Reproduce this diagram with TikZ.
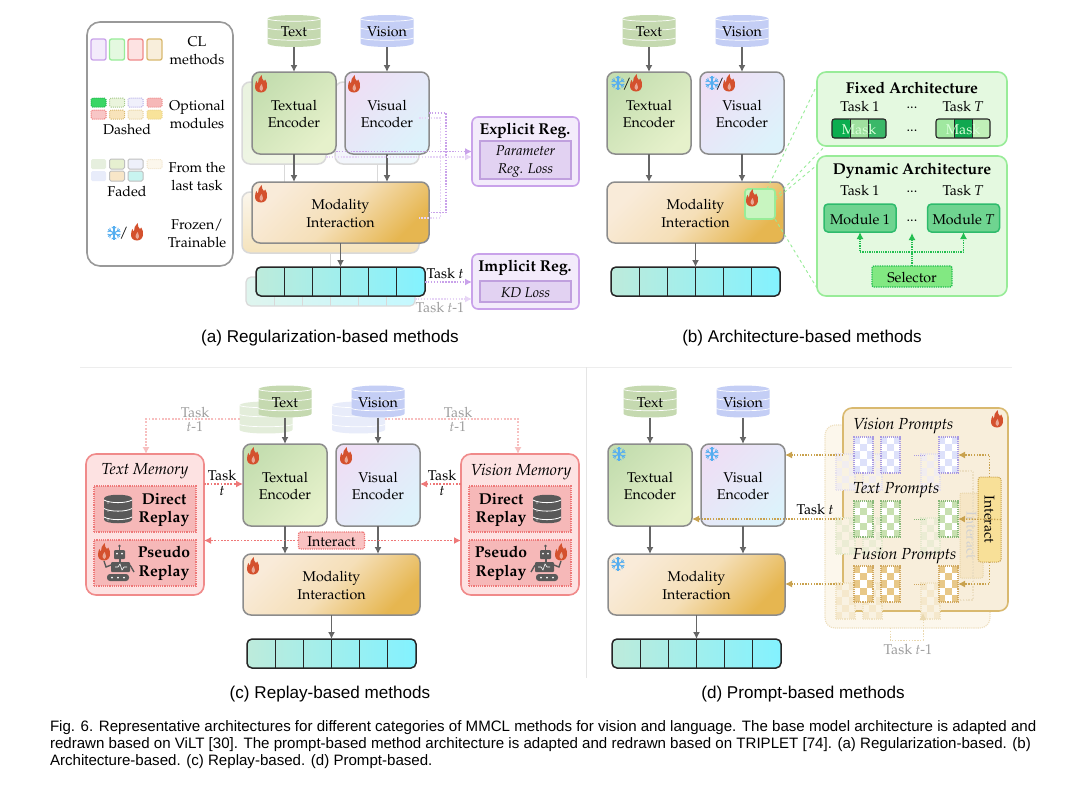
\documentclass[tikz,border=0pt]{standalone}
\usepackage[T1]{fontenc}
\usepackage{fontspec}
\usepackage{tikz}
\usetikzlibrary{shapes,arrows,arrows.meta}
\usetikzlibrary{positioning}
\usetikzlibrary{calc}
\newfontfamily\capfont{Liberation Sans}
\newcommand{\palfont}{\fontencoding{T1}\fontfamily{ppl}\fontsize{14.2}{17.5}\selectfont}
\newcommand{\lowtext}{\rule{0pt}{12.5pt}}

\definecolor{boxgray}{HTML}{8C8C8C}
\definecolor{flowgray}{HTML}{666666}
\definecolor{flamered}{HTML}{D4512E}
\definecolor{snowblue}{HTML}{55AEF0}
\definecolor{textdb}{HTML}{C5D9B0}
\definecolor{visdb}{HTML}{C4CEF5}
\definecolor{pline}{HTML}{C9A2EA}
\definecolor{pfill}{HTML}{F3EBFB}
\definecolor{pinner}{HTML}{E2D2F2}
\definecolor{gline}{HTML}{98EC98}
\definecolor{gfill}{HTML}{E4F9E0}
\definecolor{rline}{HTML}{F08A8A}
\definecolor{rfill}{HTML}{FDE2E2}
\definecolor{rinner}{HTML}{F6B8B8}
\definecolor{rdot}{HTML}{EE7878}
\definecolor{tline}{HTML}{D9B96F}
\definecolor{tfill}{HTML}{F8EEDB}
\definecolor{tdot}{HTML}{C9A24E}
% one-off shades, named by their hex value
\newcommand{\hexcolor}[1]{\definecolor{#1}{HTML}{#1}}
\makeatletter
\@for\hc:=C5DEB0,E6F1CB,EEDFF5,DDF2FB,F9EBD9,E6B650,F5DFB8,BDEBDB,83F2FF,C0A0DE,2EBB6C,6FD490,C8F5C0,0CAE50,9FE09F,3AB868,A0E8A0,10A850,C0F0B8,1FB54A,3AD665,A6C98C,EAF4DC,B4ACE6,F0F0FB,EE8A8A,F6B8B8,EE7070,F8C6C6,D9B96F,F8E3BA,E6CE96,F8EFD8,EAD38A,F8E39A,E6EFDE,E6F0D0,EEF0FA,F0E3C8,FCF7EC,E8ECFA,F8E6C8,C8F4F0,EAF3E0,F2F7E6,F6F1F9,EFF8FC,FBF6EC,FAF0DE,F5E3BC,DFF5EE,C4F8FF,22BE50,82E882,E3EDDA,F9C2C2,F6E6C6,F1EDF0,E5E0EC,EBECD4,E3E8CC,F5E8CC,F0E2C2,F9F2E2,DDE1FA,A99BE2,C8E0B0,88B878,E8C888,D0A860,F8E098\do{\expandafter\hexcolor\expandafter{\hc}}
\makeatother

\tikzset{>={Latex[length=7pt,width=7pt]}, inner sep=0pt, outer sep=0pt, every node/.style={font=\palfont}}
\tikzstyle{encoder} = [draw=boxgray, line width=1.5pt, rounded corners=8pt, minimum width=84pt, minimum height=82pt, align=center, anchor=north west]
\tikzstyle{textenc} = [encoder, top color=C5DEB0, bottom color=E6F1CB, shading angle=45]
\tikzstyle{visenc} = [encoder, top color=EEDFF5, bottom color=DDF2FB, shading angle=45]
\tikzstyle{modbox} = [draw=boxgray, line width=1.5pt, rounded corners=8pt, minimum width=177pt, minimum height=61pt, align=center, top color=F9EBD9, bottom color=E6B650, middle color=F5DFB8, shading angle=45]
\tikzstyle{barbox} = [draw=black!85, line width=1.5pt, rounded corners=5pt, minimum width=169pt, minimum height=29pt, left color=BDEBDB, right color=83F2FF]
\tikzstyle{flow} = [draw=flowgray, line width=1.4pt, ->]
\tikzstyle{dbslot} = [minimum width=53pt, minimum height=32pt]
\tikzstyle{purpledot} = [draw=pline, line width=1.5pt, dash pattern=on 1.5pt off 1.4pt]
\tikzstyle{greendot} = [draw=22BE50, line width=1.3pt, densely dotted]
\tikzstyle{reddot} = [draw=rdot, line width=1.8pt, dash pattern=on 1.8pt off 1.5pt]
\tikzstyle{tandot} = [draw=tdot, line width=1.4pt, dash pattern=on 1.4pt off 1.4pt]
\tikzstyle{zoomline} = [draw=gline, line width=.9pt, dashed]
\tikzstyle{regbox} = [draw=pline, fill=pfill, line width=1.6pt, rounded corners=6pt, minimum width=107pt]
\tikzstyle{reginner} = [draw=C0A0DE, fill=pinner, line width=1.2pt, minimum width=91pt, align=center, font=\palfont\itshape]
\tikzstyle{archbox} = [draw=gline, fill=gfill, line width=1.6pt, rounded corners=9pt, minimum width=190pt]
\tikzstyle{modulebox} = [draw=2EBB6C, fill=6FD490, line width=1.5pt, rounded corners=4pt, minimum width=72pt, minimum height=28pt]
\tikzstyle{maskbox} = [draw=black!85, line width=1.1pt, rounded corners=2.5pt, minimum width=54pt, minimum height=19pt, text=white!85!green]
\tikzstyle{checkbox} = [line width=1.1pt, densely dotted, minimum width=19pt, minimum height=36pt]
\tikzstyle{membox} = [draw=rline, fill=rfill, line width=1.6pt, rounded corners=10pt, minimum width=118pt, minimum height=141pt]
\tikzstyle{replaybox} = [draw=rdot, fill=rinner, line width=1.2pt, densely dotted, minimum width=102pt, minimum height=46pt]
\tikzstyle{swatch} = [line width=1.3pt, rounded corners=2pt, minimum width=15pt, minimum height=21pt]
\tikzstyle{mini} = [line width=1pt, densely dotted, rounded corners=1.5pt, minimum width=15pt, minimum height=9pt]
\tikzstyle{minifade} = [draw=black!25, line width=1pt, rounded corners=1.5pt, minimum width=15pt, minimum height=10pt]
\tikzstyle{bold} = [font=\palfont\bfseries\fontsize{15.7}{18.5}\selectfont]
\tikzstyle{italic} = [font=\palfont\itshape\fontsize{16}{17}\selectfont]
\tikzstyle{capt} = [font=\capfont\fontsize{17.1}{17}\selectfont]
\tikzstyle{gone} = [text=black!38, align=center]

% small pictures
\newcommand{\dbshape}[2]{
  \begin{scope}[shift={(#1)}]
    \fill [#2] (-26.5,-12) .. controls (-26.5,-17.3) and (26.5,-17.3) .. (26.5,-12) -- (26.5,12) .. controls (26.5,17.3) and (-26.5,17.3) .. (-26.5,12) -- cycle;
    \foreach \yy in {-12,-3,7}
      \draw [white, line width=.7pt] (-26.5,\yy) .. controls (-20,\yy+3) and (20,\yy+3) .. (26.5,\yy);
  \end{scope}
}
\newcommand{\maskshape}[4]{
  \begin{scope}[shift={(#1)}]
    \fill [#2, rounded corners=2pt] (-27,-9.5) rectangle (-9,9.5);
    \fill [#3] (-9,-9.5) rectangle (9,9.5);
    \fill [#4, rounded corners=2pt] (9,-9.5) rectangle (27,9.5);
    \draw [black!85, line width=1pt] (-9,-9.5) -- (-9,9.5) (9,-9.5) -- (9,9.5);
  \end{scope}
}
\newcommand{\checkcell}[5]{
  \begin{scope}[shift={(#2)}]
    \fill [#5] (-9.5,-18) rectangle (9.5,18);
    \foreach \cc in {0,1,2} \foreach \rr in {0,...,4} {
      \pgfmathparse{int(mod(\cc+\rr,2))}
      \ifnum\pgfmathresult=0 \fill [#3] (\cc*6.33-9.5,\rr*7.2-18) rectangle (\cc*6.33-3.17,\rr*7.2-10.8); \fi
    }
  \end{scope}
  \node [checkbox, draw=#4] (#1) at (#2) {};
}
\newcommand{\flameicon}[1]{
  \begin{scope}[shift={(#1)}]
    \fill [flamered] (0,8.5) .. controls (-3.8,8.5) and (-6.2,6) .. (-6,2.5) .. controls (-5.9,.5) and (-5.3,-1.5) .. (-4.6,-3.2) .. controls (-4.3,-1.6) and (-3.9,-.8) .. (-3.1,-.2) .. controls (-3.2,-3.5) and (-2,-6.8) .. (.6,-9) .. controls (.3,-6) and (1.8,-4.6) .. (3,-2.8) .. controls (3.6,-3.4) and (3.9,-3.9) .. (4.2,-4.6) .. controls (5.6,-2.2) and (6.4,0) .. (6,3) .. controls (5.6,6.2) and (3.4,8.5) .. (0,8.5) -- cycle;
    \fill [white, opacity=.5] (.5,7) .. controls (-2.4,6) and (-1.8,2.5) .. (.8,0) .. controls (1,2.5) and (3.4,4.5) .. (.5,7) -- cycle;
  \end{scope}
}
\newcommand{\snowicon}[1]{
  \begin{scope}[shift={(#1)}]
    \foreach \aa in {0,60,...,300} {
      \draw [snowblue, line width=1.1pt, rotate=\aa] (0,0) -- (0,6.8);
      \draw [snowblue, line width=.8pt, rotate=\aa] (-2.3,6.2) -- (0,4) -- (2.3,6.2);
    }
  \end{scope}
}
\newcommand{\dbicon}[1]{
  \begin{scope}[shift={(#1)}]
    \fill [black!65] (-14,-10.5) .. controls (-14,-15.5) and (14,-15.5) .. (14,-10.5) -- (14,10.5) .. controls (14,15.5) and (-14,15.5) .. (-14,10.5) -- cycle;
    \foreach \yy in {-9,-.5,8}
      \draw [white, line width=.8pt] (-14,\yy) .. controls (-8,\yy+3.5) and (8,\yy+3.5) .. (14,\yy);
    \foreach \yy in {-2,7,-10}
      \fill [white] (-10,\yy+4) circle (.7pt);
  \end{scope}
}
\newcommand{\roboticon}[2]{
  \begin{scope}[shift={(#1)}, x=#2pt]
    \fill [black!65, rounded corners=1pt] (-6,-13) rectangle (5,-4);
    \draw [black!65, line width=1pt] (-.5,-13) -- (-.5,-17);
    \fill [black!65] (-.5,-17) circle (1.3pt);
    \fill [white] (-3,-9.5) circle (1pt) (2,-9.5) circle (1pt);
    \draw [black!65, line width=2pt] (-.5,-4) -- (-.5,-1);
    \fill [black!65, rounded corners=1pt] (-9,-1) rectangle (10,9);
    \fill [black!65, rounded corners=3pt] (-13,11) rectangle (9,18);
    \fill [white] (-8,14.5) circle (1pt) (-2,14.5) circle (1pt) (4,14.5) circle (1pt);
    \draw [white, line width=.6pt] (-5,4) -- (-2,4) -- (0,1) -- (2,7) -- (4,4) -- (7,4);
    \draw [black!65, line width=1.4pt] (-9,2) -- (-14,4) -- (-16,-2) (10,2) -- (14,9);
  \end{scope}
}
% prefix, x, y of the textual encoder, gap to the data stores
\newcommand{\basemodel}[4]{
  \node [textenc] (#1_text) at (#2,#3) {\lowtext Textual\\Encoder};
  \node [visenc, right=9pt of #1_text] (#1_vis) {\lowtext Visual\\Encoder};
  \node [modbox, below=28pt of #1_text.south west, anchor=north west] (#1_mod) {\lowtext Modality\\Interaction};
  \node [barbox, below=24pt of #1_mod] (#1_bar) {};
  \foreach \i in {1,...,5}
    \draw [black!85, line width=1pt] ($(#1_bar.north west)!\i/6!(#1_bar.north east)$) -- ($(#1_bar.south west)!\i/6!(#1_bar.south east)$);
  \node [dbslot, above=#4pt of #1_text] (#1_tdb) {};
  \dbshape{#1_tdb}{textdb}
  \node (#1_tdbl) at ($(#1_tdb)+(0,1)$) {Text};
  \node [dbslot, above=#4pt of #1_vis] (#1_vdb) {};
  \dbshape{#1_vdb}{visdb}
  \node (#1_vdbl) at ($(#1_vdb)+(0,1)$) {Vision};
  \draw [flow] (#1_tdb) -- (#1_text);
  \draw [flow] (#1_vdb) -- (#1_vis);
  \draw [flow] (#1_text) -- (#1_text |- #1_mod.north);
  \draw [flow] (#1_vis) -- (#1_vis |- #1_mod.north);
  \draw [flow] (#1_mod) -- (#1_bar);
}

\begin{document}
\begin{tikzpicture}[x=1pt, y=-1pt]
  \useasboundingbox (0,0) rectangle (1080,793);
  \fill [white] (0,0) rectangle (1080,793);

  % legend
  \node [draw=black!40, line width=1.6pt, rounded corners=13pt, minimum width=146pt, minimum height=244pt, anchor=north west] (legend) at (87,22) {};
  \foreach \xx/\dd/\ff [count=\i] in {98.5/pline/pfill, 117/gline/gfill, 135.5/rline/rfill, 154.5/tline/tfill}
    \node [swatch, draw=\dd, fill=\ff] (cl\i) at (\xx,49.5) {};
  \node [align=center] (cl_text) at (197,50.5) {CL\\methods};
  \foreach \xx/\yy/\dd/\ff [count=\i] in {98.5/102.5/1FB54A/3AD665, 117/102.5/A6C98C/EAF4DC, 135.5/102.5/B4ACE6/F0F0FB, 154.5/102.5/EE8A8A/F6B8B8, 98.5/114.5/EE7070/F8C6C6, 117/114.5/D9B96F/F8E3BA, 135.5/114.5/E6CE96/F8EFD8, 154.5/114.5/EAD38A/F8E39A}
    \node [mini, draw=\dd, fill=\ff] (opt\i) at (\xx,\yy) {};
  \node (dashed) at (127,130) {Dashed};
  \node [align=center] (opt_text) at (197,114.5) {Optional\\modules};
  \node [minifade, draw=none, fill=E6EFDE] (old1) at (98.5,164) {};
  \node [minifade, fill=E6F0D0] (old2) at (117,164) {};
  \node [minifade, fill=EEF0FA] (old3) at (135.5,164) {};
  \node [mini, draw=F0E3C8, fill=FCF7EC] (old4) at (154.5,164) {};
  \node [minifade, draw=none, fill=E8ECFA] (old5) at (98.5,176) {};
  \node [minifade, fill=F8E6C8] (old6) at (117,176) {};
  \node [minifade, fill=C8F4F0] (old7) at (135.5,176) {};
  \node (faded) at (127,192) {Faded};
  \node [align=center] (old_text) at (197,176.5) {From the\\last task};
  \snowicon{114,233}
  \node (slash) at (124,233) {/};
  \flameicon{137,232}
  \node [align=center] (icon_text) at (197,233.5) {Frozen/\\Trainable};

  % (a)
  \node [encoder, draw=black!15, top color=EAF3E0, bottom color=F2F7E6, shading angle=45] (o_text) at (242,82) {};
  \node [encoder, draw=black!15, top color=F6F1F9, bottom color=EFF8FC, shading angle=45, right=9pt of o_text] (o_vis) {};
  \node [modbox, draw=black!15, top color=FBF6EC, middle color=FAF0DE, bottom color=F5E3BC, below=28pt of o_text.south west, anchor=north west] (o_mod) {};
  \node [barbox, draw=black!15, line width=1.2pt, left color=DFF5EE, right color=C4F8FF, below=24pt of o_mod] (o_bar) {};
  \foreach \i in {1,...,5}
    \draw [black!15, line width=.9pt] ($(o_bar.north west)!\i/6!(o_bar.north east)$) -- ($(o_bar.south west)!\i/6!(o_bar.south east)$);
  \draw [black!15, line width=.9pt] (o_text) -- (o_text |- o_mod.north);
  \draw [black!15, line width=.9pt] (o_vis) -- (o_vis |- o_mod.north);
  \draw [black!15, line width=.9pt] (o_mod) -- (o_bar);
  \basemodel{a}{252}{72}{25}
  \flameicon{261,84}
  \flameicon{354,84}
  \flameicon{261,194}
  \node [regbox, minimum height=69pt, anchor=north west] (reg_e) at (472,117) {};
  \node [bold] (reg_e_title) at (525,130.5) {Explicit Reg.};
  \node [reginner, minimum height=38pt, below=24pt of reg_e.north] (reg_e_in) {\lowtext Parameter\\Reg. Loss};
  \node [regbox, minimum height=55pt, anchor=north west] (reg_i) at (472,254) {};
  \node [bold] (reg_i_title) at (525,267.5) {Implicit Reg.};
  \node [reginner, minimum height=21pt, below=27pt of reg_i.north] (reg_i_in) {\lowtext KD Loss};
  \coordinate (a_bend) at (446,113);
  \coordinate (o_bend) at (440.5,118);
  \draw [purpledot, draw=pline!45] (o_vis.east |- o_bend) -- (o_bend) |- (o_mod.east |- 0,218);
  \draw [purpledot] (a_vis.east) -- (a_bend) |- (a_mod.east);
  \draw [purpledot, ->, draw=pline!45] (o_text.south east |- 0,157) -- (reg_e.west |- 0,157);
  \draw [purpledot, ->] (a_text.south east |- 0,151.5) -- (reg_e.west |- 0,151.5);
  \draw [purpledot, ->] (a_bar.east |- 0,282) -- (reg_i.west |- 0,282);
  \draw [purpledot, ->, draw=pline!45] (o_bar.east |- 0,299) -- (reg_i.west |- 0,299);
  \node (task_a) at (445,274) {Task \textit{t}};
  \node [gone] (task_a_old) at (440,308) {Task \textit{t}-1};
  \node [capt] (cap_a) at (330,338.5) {(a) Regularization-based methods};

  % (b)
  \basemodel{b}{607}{72}{25}
  \snowicon{618,83}
  \node (b_sl1) at (627,84) {/};
  \flameicon{636,83}
  \snowicon{712,83}
  \node (b_sl2) at (720,84) {/};
  \flameicon{729,83}
  \node [draw=gline, fill=C8F5C0, line width=1.6pt, rounded corners=3pt, minimum width=30pt, minimum height=30pt, anchor=north west] (b_opt) at (745,189) {};
  \flameicon{752,198}
  \node [archbox, minimum height=74pt, anchor=north west] (b_fixed) at (817,72) {};
  \node [archbox, minimum height=140pt, anchor=north west] (b_dyn) at (817,156) {};
  \draw [zoomline] ($(b_opt.north)+(7,0)$) -- ($(b_fixed.north west)+(0,13)$);
  \draw [zoomline] ($(b_opt.north east)+(0,9)$) -- ($(b_fixed.south west)+(8,0)$);
  \draw [zoomline] ($(b_opt.north east)+(0,11)$) -- ($(b_dyn.north west)+(0,9)$);
  \draw [zoomline] (b_opt.south east) -- ($(b_dyn.south west)+(0,-8)$);
  \node [bold] (b_fixed_t) at (912,87.5) {Fixed Architecture};
  \node (b_f1) at (860,107) {Task 1};
  \node (b_fd) at (912,108) {...};
  \node (b_fT) at (963,107) {Task \textit{T}};
  \maskshape{859,128.5}{0CAE50}{9FE09F}{3AB868}
  \node [maskbox] (b_mask1) at (859,128.5) {\lowtext Mask};
  \node (b_md) at (912,131) {...};
  \maskshape{963,128.5}{A0E8A0}{10A850}{C0F0B8}
  \node [maskbox] (b_mask2) at (963,128.5) {\lowtext Mask};
  \node [bold] (b_dyn_t) at (912,170.5) {Dynamic Architecture};
  \node (b_d1) at (860,191) {Task 1};
  \node (b_dd) at (912,192) {...};
  \node (b_dT) at (963,191) {Task \textit{T}};
  \node [modulebox] (b_m1) at (860,218) {\lowtext Module 1};
  \node (b_mdots) at (912,221) {...};
  \node [modulebox] (b_mT) at (963.5,218) {\lowtext Module \textit{T}};
  \node [draw=22BE50, fill=82E882, line width=1.3pt, densely dotted, rounded corners=2pt, minimum width=80pt, minimum height=21pt] (b_sel) at (912,276.5) {\lowtext Selector};
  \coordinate (b_bus) at (912,252);
  \coordinate (b_tip) at (912,233);
  \draw [greendot, ->] (b_sel) -- (b_tip);
  \draw [greendot, ->] (b_bus) -| (b_m1.south);
  \draw [greendot, ->] (b_bus) -| (b_mT.south);
  \node [capt] (cap_b) at (802,338.5) {(b) Architecture-based methods};

  % separators
  \draw [black!7, line width=.8pt] (80,367) -- (1012,367);
  \draw [black!10, line width=.8pt] (586,367) -- (586,678);

  % (c)
  \node [dbslot] (c_tdb_old) at (266,417.5) {};
  \dbshape{c_tdb_old}{E3EDDA}
  \node [dbslot] (c_vdb_old) at (358.5,417.5) {};
  \dbshape{c_vdb_old}{E8ECFA}
  \basemodel{c}{243}{444}{26.5}
  \flameicon{253,456}
  \flameicon{346,456}
  \flameicon{253,566}
  \node [draw=rdot, fill=F9C2C2, line width=1.2pt, densely dotted, rounded corners=2pt, minimum width=66pt, minimum height=17pt, above=5pt of c_mod] (c_int) {\lowtext Interact};
  \node [membox, anchor=north west] (c_tmem) at (86,454) {};
  \node [italic] (c_tmem_t) at (145,471.5) {Text Memory};
  \node [replaybox] (c_td) at (145,509) {};
  \node [replaybox] (c_tp) at (145,563) {};
  \node [bold, align=center] (c_td_t) at (164,510) {Direct\\Replay};
  \node [bold, align=center] (c_tp_t) at (164,563.5) {Pseudo\\Replay};
  \dbicon{118,509}
  \roboticon{120,563}{1}
  \flameicon{104,552}
  \node [membox, anchor=north west] (c_vmem) at (461,454) {};
  \node [italic] (c_vmem_t) at (521,471.5) {Vision Memory};
  \node [replaybox] (c_vd) at (520,509) {};
  \node [replaybox] (c_vp) at (520,563) {};
  \node [bold, align=center] (c_vd_t) at (501,510) {Direct\\Replay};
  \node [bold, align=center] (c_vp_t) at (501,563.5) {Pseudo\\Replay};
  \dbicon{547,509}
  \roboticon{545,563}{-1}
  \flameicon{561,552}
  \draw [reddot, ->] (c_tmem.east |- 0,484) -- (c_text.west |- 0,484);
  \draw [reddot, ->] (c_vmem.west |- 0,484) -- (c_vis.east |- 0,484);
  \draw [reddot, ->] (c_int) -- (c_tmem.east |- c_int);
  \draw [reddot, ->] (c_int) -- (c_vmem.west |- c_int);
  \draw [reddot, draw=rline!55, line width=1.2pt, ->] (c_tdb_old.west |- 0,419) -| (146,454);
  \draw [reddot, draw=rline!55, line width=1.2pt, ->] (c_vdb_old.east |- 0,419) -| (518,454);
  \node [align=center, font=\palfont\fontsize{14.2}{15}\selectfont] (c_tl) at (222,483) {Task\\\textit{t}};
  \node [align=center, font=\palfont\fontsize{14.2}{15}\selectfont] (c_tr) at (442,483) {Task\\\textit{t}};
  \node [gone, font=\palfont\fontsize{14.2}{14}\selectfont] (c_ol) at (195,419.5) {Task\\\textit{t}-1};
  \node [gone, font=\palfont\fontsize{14.2}{14}\selectfont] (c_or) at (458,419.5) {Task\\\textit{t}-1};
  \node [capt] (cap_c) at (330,694.5) {(c) Replay-based methods};

  % (d)
  \basemodel{d}{608}{444}{26.5}
  \snowicon{619,454}
  \snowicon{712,454}
  \snowicon{618,564}
  \node [draw=tline!45, densely dotted, line width=1.1pt, fill=FCF7EC, rounded corners=10pt, minimum width=165pt, minimum height=203pt, anchor=north west] (d_old) at (825,425) {};
  \node [draw=tline, fill=tfill, line width=1.6pt, rounded corners=9pt, minimum width=165pt, minimum height=203pt, anchor=north west] (d_box) at (843,408) {};
  \flameicon{997,419}
  \node [draw=tline!60, fill=F6E6C6, densely dotted, line width=1pt, rounded corners=2pt, minimum width=85pt, minimum height=23pt, rotate=-90, text=black!18] (d_int_old) at (971.5,535.5) {Interact};
  \foreach \yy/\ff/\dd in {472/F1EDF0/E5E0EC, 536/EBECD4/E3E8CC, 601/F5E8CC/F0E2C2}
    \foreach \xx/\nn in {845.5/a, 872.5/b, 930.5/c}
      \checkcell{d_old\nn\yy}{\xx,\yy}{\ff}{\dd}{F9F2E2}
  \draw [tandot, draw=tdot!35] (940,471) -- (973,471) -- (973,600) -- (940,600);
  \draw [tandot, draw=tdot!35] (940,535) -- (960,535);
  \foreach \yy/\ff/\dd/\nn in {455/DDE1FA/A99BE2/v, 519/C8E0B0/88B878/t, 584/E8C888/D0A860/f} {
    \checkcell{d_\nn a}{863.5,\yy}{\ff}{\dd}{white}
    \checkcell{d_\nn b}{890.5,\yy}{\ff}{\dd}{white}
    \checkcell{d_\nn c}{948.5,\yy}{\ff}{\dd}{white}
    \draw [densely dotted, line width=1pt, draw=\dd] ($(d_\nn b.east)+(14,0)$) -- ($(d_\nn c.west)+(-14,0)$);
  }
  \node [italic, anchor=west] (d_vt) at (853,425.5) {Vision Prompts};
  \node [italic, anchor=west] (d_tt) at (853,490.5) {Text Prompts};
  \node [italic, anchor=west] (d_ft) at (853,555.5) {Fusion Prompts};
  \node [draw=tdot, fill=F8E098, densely dotted, line width=1pt, rounded corners=3pt, minimum width=85pt, minimum height=23pt, rotate=-90] (d_int) at (989.5,519.5) {Interact};
  \draw [tandot, ->] (d_int.west) |- (d_vc.east);
  \draw [tandot, ->] (d_int.north) -- (d_tc.east);
  \draw [tandot, ->] (d_int.east) |- (d_fc.east);
  \draw [tandot, ->] (d_box.west |- d_va) -- (d_vis.east |- d_va);
  \draw [tandot, ->] (d_box.west |- d_ta) -- (d_text.east |- d_ta);
  \draw [tandot, ->] (d_box.west |- d_fa) -- (d_mod.east |- d_fa);
  \node (d_task) at (815,510) {Task \textit{t}};
  \coordinate (d_from) at (890,628);
  \coordinate (d_to) at (923,613);
  \draw [tandot, draw=tline!55, line width=1pt, ->] (d_from) -- (890,640) -| (d_to);
  \node [gone] (d_task_old) at (908,650) {Task \textit{t}-1};
  \node [capt] (cap_d) at (803,694.5) {(d) Prompt-based methods};

  % figure text
  \node [font=\capfont\fontsize{15.08}{16.6}\selectfont, align=left, anchor=north west] (fig_text) at (50,721) {Fig. 6. Representative architectures for different categories of MMCL methods for vision and language. The base model architecture is adapted and\\redrawn based on ViLT [30]. The prompt-based method architecture is adapted and redrawn based on TRIPLET [74]. (a) Regularization-based. (b)\\Architecture-based. (c) Replay-based. (d) Prompt-based.};
\end{tikzpicture}
\end{document}
